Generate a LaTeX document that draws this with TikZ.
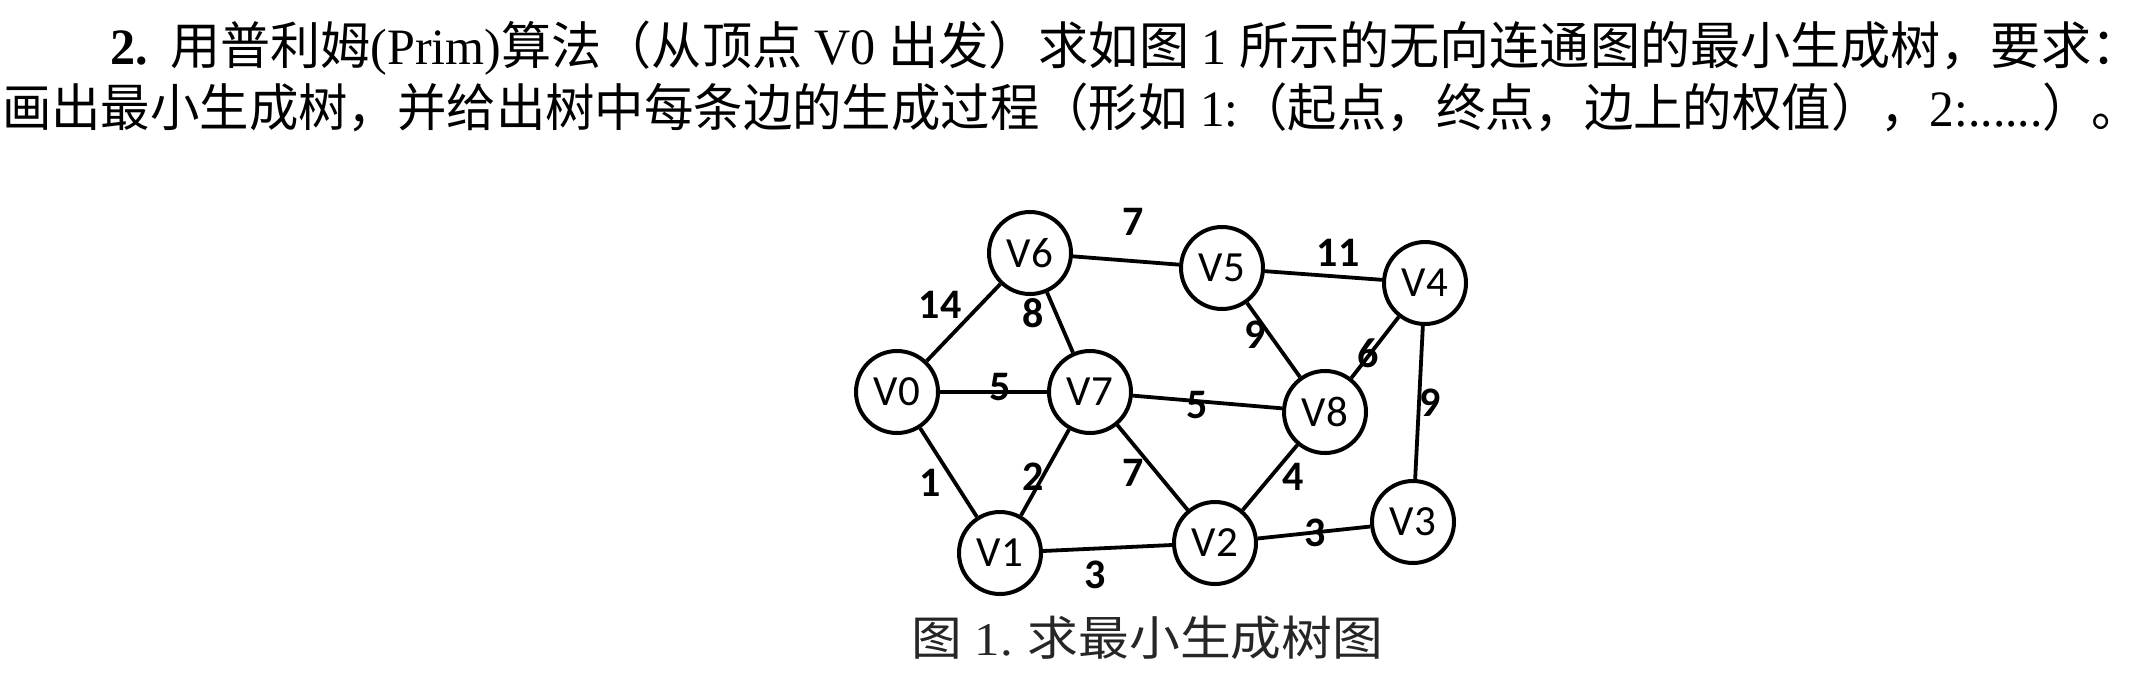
\documentclass[tikz,border=0pt]{standalone}
\usepackage{fontspec}
\usepackage{graphicx}
\setmainfont{Liberation Serif}
\newfontfamily\cjk{Noto Sans CJK SC}
\newfontfamily\gfont{Carlito}
\begin{document}
\begin{tikzpicture}[x=1pt,y=-1pt,
  vtx/.style={circle,draw,line width=4pt,minimum size=82pt,inner sep=0pt,font=\gfont\fontsize{43}{43}\selectfont},
  wt/.style={font=\gfont\bfseries\fontsize{42}{42}\selectfont,inner sep=0pt},
  edge/.style={line width=3.8pt},
  txt/.style={anchor=base west,inner sep=0pt,font=\fontsize{51}{51}\selectfont}]
\useasboundingbox (0,0) rectangle (2143,694);
\fill[white] (0,0) rectangle (2143,694);

% text
\node[txt] (line1) at (110,64) {\resizebox{2031pt}{\height}{\textbf{2.}\hspace{0.45em}{\cjk 用普利姆}(Prim){\cjk 算法（从顶点} V0 {\cjk 出发）求如图} 1 {\cjk 所示的无向连通图的最小生成树，要求：}}};
\node[txt] (line2) at (2,126) {\resizebox{2139pt}{\height}{{\cjk 画出最小生成树，并给出树中每条边的生成过程（形如} 1:{\cjk （起点，终点，边上的权值），}2:......{\cjk ）。}}};
\node[txt,font=\fontsize{47}{47}\selectfont,text=black!85] (cap) at (911,655) {\resizebox{472pt}{\height}{{\cjk 图} 1.\hspace{0.3em}{\cjk 求最小生成树图}}};

% vertices
\node[vtx] (V0) at (897,392) {V0};
\node[vtx] (V6) at (1030,253) {V6};
\node[vtx] (V5) at (1222,268) {V5};
\node[vtx] (V4) at (1425,283) {V4};
\node[vtx] (V7) at (1090,392) {V7};
\node[vtx] (V8) at (1325,412) {V8};
\node[vtx] (V1) at (1000,553) {V1};
\node[vtx] (V2) at (1215,543) {V2};
\node[vtx] (V3) at (1413,522) {V3};

% edges
\draw[edge] (V0) -- (V6);
\draw[edge] (V6) -- (V5);
\draw[edge] (V5) -- (V4);
\draw[edge] (V6) -- (V7);
\draw[edge] (V0) -- (V7);
\draw[edge] (V7) -- (V8);
\draw[edge] (V5) -- (V8);
\draw[edge] (V8) -- (V4);
\draw[edge] (V4) -- (V3);
\draw[edge] (V0) -- (V1);
\draw[edge] (V1) -- (V7);
\draw[edge] (V7) -- (V2);
\draw[edge] (V8) -- (V2);
\draw[edge] (V1) -- (V2);
\draw[edge] (V2) -- (V3);

% weights
\node[wt] (w06) at (940,305) {14};
\node[wt] (w65) at (1133,222) {7};
\node[wt] (w54) at (1338,253) {11};
\node[wt] (w67) at (1033,313) {8};
\node[wt] (w07) at (1000,387) {5};
\node[wt] (w78) at (1197,405) {5};
\node[wt] (w58) at (1255,335) {9};
\node[wt] (w84) at (1368,353) {6};
\node[wt] (w43) at (1430,403) {9};
\node[wt] (w01) at (930,483) {1};
\node[wt] (w17) at (1033,477) {2};
\node[wt] (w72) at (1133,473) {7};
\node[wt] (w82) at (1293,477) {4};
\node[wt] (w12) at (1095,575) {3};
\node[wt] (w23) at (1315,533) {3};
\end{tikzpicture}
\end{document}
